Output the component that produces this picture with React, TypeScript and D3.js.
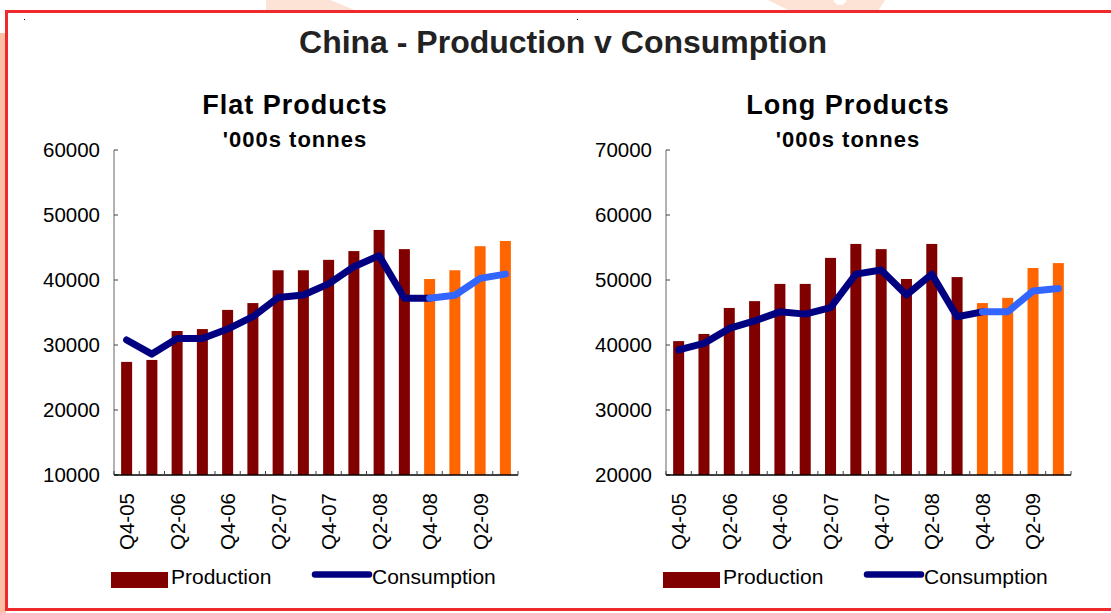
import React from "react";
import * as d3 from "d3";

const quarters = [
  "Q4-05", "Q1-06", "Q2-06", "Q3-06", "Q4-06", "Q1-07", "Q2-07", "Q3-07",
  "Q4-07", "Q1-08", "Q2-08", "Q3-08", "Q4-08", "Q1-09", "Q2-09", "Q3-09",
];
const labelledQuarters = ["Q4-05", "Q2-06", "Q4-06", "Q2-07", "Q4-07", "Q2-08", "Q4-08", "Q2-09"];
const forecastStart = 12; // index from which values are forecasts

const flatProduction = [27400, 27700, 32150, 32450, 35400, 36450, 41500, 41500, 43100, 44450, 47700, 44750, 40150, 41500, 45200, 46000];
const flatConsumption = [30770, 28600, 31000, 31000, 32450, 34350, 37300, 37700, 39400, 42050, 43750, 37200, 37200, 37650, 40250, 40900];
const flatTicks = [10000, 20000, 30000, 40000, 50000, 60000];

const longProduction = [40600, 41700, 45700, 46750, 49400, 49400, 53400, 55550, 54750, 50150, 55550, 50450, 46450, 47250, 51850, 52600];
const longConsumption = [39250, 40250, 42550, 43700, 45100, 44750, 45750, 50900, 51550, 47700, 50900, 44350, 45100, 45100, 48300, 48700];
const longTicks = [20000, 30000, 40000, 50000, 60000, 70000];

const C_PROD = "#800000";
const C_PROD_F = "#ff6600";
const C_CONS = "#000080";
const C_CONS_F = "#3366ff";
const FONT = "'Liberation Sans', Arial, sans-serif";

type PanelProps = {
  x0: number;
  x1: number;
  titleX: number;
  title: string;
  production: number[];
  consumption: number[];
  ticks: number[];
};

function Panel({ x0, x1, titleX, title, production, consumption, ticks }: PanelProps) {
  const yTop = 150;
  const yBot = 475;
  const x = d3.scaleBand<string>().domain(quarters).range([x0, x1]).padding(0);
  const y = d3.scaleLinear().domain([ticks[0], ticks[ticks.length - 1]]).range([yBot, yTop]);
  const bw = 11;
  const cx = (q: string) => (x(q) as number) + x.bandwidth() / 2;
  const mk = (idx: number[]) =>
    d3
      .line<number>()
      .x((i) => cx(quarters[i]))
      .y((i) => y(consumption[i]))(idx) as string;
  const histIdx = d3.range(0, forecastStart + 1);
  const foreIdx = d3.range(forecastStart, quarters.length);
  const boundaries = d3.range(0, quarters.length + 1).map((i) => x0 + i * x.bandwidth());

  return (
    <g fontFamily={FONT}>
      <text x={titleX} y={114} textAnchor="middle" fontSize={27} fontWeight="bold" letterSpacing={1}>
        {title}
      </text>
      <text x={titleX} y={147} textAnchor="middle" fontSize={22} fontWeight="bold" letterSpacing={1}>
        '000s tonnes
      </text>
      {quarters.map((q, i) => (
        <rect
          key={q}
          x={cx(q) - bw / 2}
          y={y(production[i])}
          width={bw}
          height={yBot - y(production[i])}
          fill={i >= forecastStart ? C_PROD_F : C_PROD}
        />
      ))}
      <line x1={x0} x2={x0} y1={yTop} y2={yBot} stroke="#808080" strokeWidth={1.2} />
      {ticks.map((t) => (
        <g key={t}>
          <line x1={x0} x2={x0 + 4} y1={y(t)} y2={y(t)} stroke="#404040" strokeWidth={1} />
          <text x={x0 - 14} y={y(t)} dy="0.35em" textAnchor="end" fontSize={20.5} fill="#000">
            {t}
          </text>
        </g>
      ))}
      <line x1={x0} x2={x1} y1={yBot} y2={yBot} stroke="#000" strokeWidth={1.5} />
      {boundaries.map((b, i) => (
        <line key={i} x1={b} x2={b} y1={yBot} y2={yBot - 4} stroke="#404040" strokeWidth={1} />
      ))}
      {labelledQuarters.map((q) => (
        <text
          key={q}
          transform={`translate(${cx(q)},${yBot + 18}) rotate(-90)`}
          dy="0.36em"
          textAnchor="end"
          fontSize={20.5}
          fill="#000"
        >
          {q}
        </text>
      ))}
      <path d={mk(histIdx)} fill="none" stroke={C_CONS} strokeWidth={7} strokeLinejoin="round" strokeLinecap="round" />
      <path d={mk(foreIdx)} fill="none" stroke={C_CONS_F} strokeWidth={7} strokeLinejoin="round" strokeLinecap="round" />
      <rect x={x0 - 3} y={572} width={57} height={16} fill={C_PROD} />
      <text x={x0 + 57} y={584} fontSize={21} fill="#000">
        Production
      </text>
      <line x1={x0 + 201} x2={x0 + 255} y1={574.5} y2={574.5} stroke={C_CONS} strokeWidth={6.5} strokeLinecap="round" />
      <text x={x0 + 258} y={584} fontSize={21} fill="#000">
        Consumption
      </text>
    </g>
  );
}

export default function App() {
  return (
    <svg
      width={1111}
      height={613}
      style={{ position: "absolute", left: 0, top: 0, background: "#fff" }}
    >
      <rect x={0} y={33} width={6} height={580} fill="#fbc0a6" />
      <path d="M266,0 L330,0 L357,11 L266,11 Z" fill="#fde2d6" />
      <path d="M768,0 L885,0 L878,11 L790,11 Z" fill="#fde2d6" />
      <circle cx={840} cy={-2} r={7} fill="#fff" />
      <rect x={6.5} y={11.5} width={1120} height={598} fill="#fff" stroke="#ee2a2f" strokeWidth={3} />
      <rect x={24} y={19} width={1} height={1} fill="#000" />
      <rect x={577} y={19} width={1} height={1} fill="#000" />
      <text
        x={563}
        y={53}
        textAnchor="middle"
        fontFamily={FONT}
        fontSize={32}
        fontWeight="bold"
        fill="#222"
      >
        China - Production v Consumption
      </text>
      <Panel
        x0={114}
        x1={518}
        titleX={295}
        title="Flat Products"
        production={flatProduction}
        consumption={flatConsumption}
        ticks={flatTicks}
      />
      <Panel
        x0={666}
        x1={1071}
        titleX={848}
        title="Long Products"
        production={longProduction}
        consumption={longConsumption}
        ticks={longTicks}
      />
    </svg>
  );
}
